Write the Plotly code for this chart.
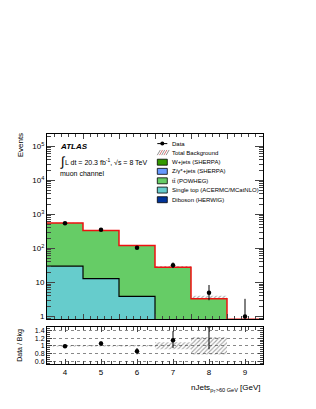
import numpy as np
import plotly.graph_objects as go

W, H = 316, 409

# ---------------- data ----------------
bin_centers = [4, 5, 6, 7, 8, 9]
bin_edges = [3.5, 4.5, 5.5, 6.5, 7.5, 8.5, 9.5]
data_vals = [550, 355, 105, 32, 5, 1]
data_err_up = [23, 19, 10, 6.7, 3.4, 2.3]
data_err_dn = [23, 19, 10, 5.6, 2.0, 0.83]
single_top = [30, 13, 3.9, 0, 0, 0]
total_bkg = [555, 335, 122, 28, 3.3, 0]
bkg_rel_unc = [0.02, 0.02, 0.02, 0.09, 0.23, 0]
tick_vals_main = [1, 10, 100, 1000, 10000, 100000]
tick_text_main = ["1", "10", "10<sup>2</sup>", "10<sup>3</sup>", "10<sup>4</sup>", "10<sup>5</sup>"]
ratio_ticks = [0.6, 0.8, 1.0, 1.2, 1.4]
ratio_ticktext = ["0.6", "0.8", "1", "1.2", "1.4"]
legend_labels = ["Data", "Total Background", "W+jets (SHERPA)", "Z/\u03b3*+jets (SHERPA)",
                 "tt\u0304 (POWHEG)", "Single top (ACERMC/MCatNLO)", "Diboson (HERWIG)"]
legend_colors = [None, None, "#339900", "#6699ff", "#66cc66", "#66cccc", "#003399"]

C_TT = "#66cc66"
C_ST = "#66cccc"
FONT = "Liberation Sans, Arial, sans-serif"

def px(x):
    return x / W

def py(y):
    return 1 - y / H

def step(vals, floor):
    v = [max(a, floor) if a > 0 else floor for a in vals]
    return list(bin_edges), v + [v[-1]]

fig = go.Figure()

# baseline for fills
bx, by = step([0] * 6, 1e-3)
fig.add_trace(go.Scatter(x=bx, y=by, mode="lines", line=dict(width=0, shape="hv"),
                         showlegend=False, hoverinfo="skip", xaxis="x", yaxis="y"))
# single top
sx, sy = step(single_top, 1e-3)
fig.add_trace(go.Scatter(x=sx, y=sy, mode="lines", line=dict(color="black", width=1.2, shape="hv"),
                         fill="tonexty", fillcolor=C_ST, showlegend=False, xaxis="x", yaxis="y"))
# ttbar (stack top)
tx, ty = step(total_bkg, 1e-3)
fig.add_trace(go.Scatter(x=tx, y=ty, mode="lines", line=dict(color=C_TT, width=0, shape="hv"),
                         fill="tonexty", fillcolor=C_TT, showlegend=False, xaxis="x", yaxis="y"))

# hatched uncertainty band (main)
tb = np.array(total_bkg, dtype=float)
ru = np.array(bkg_rel_unc)
fig.add_trace(go.Bar(x=bin_centers, y=2 * tb * ru, base=tb * (1 - ru), width=1,
                     marker=dict(color="rgba(0,0,0,0)", line=dict(width=0),
                                 pattern=dict(shape="/", fgcolor="#444", size=3, solidity=0.35)),
                     showlegend=False, xaxis="x", yaxis="y"))

# total background red line
rx, ry = step(total_bkg, 0.835)
fig.add_trace(go.Scatter(x=rx, y=ry, mode="lines", line=dict(color="#ee1111", width=1.5, shape="hv"),
                         showlegend=False, xaxis="x", yaxis="y"))

# data
fig.add_trace(go.Scatter(x=bin_centers, y=data_vals, mode="markers",
                         marker=dict(color="black", size=4.5),
                         error_y=dict(type="data", symmetric=False, array=data_err_up,
                                      arrayminus=data_err_dn, color="black", thickness=1, width=0),
                         showlegend=False, xaxis="x", yaxis="y"))

# ---------------- ratio ----------------
dv = np.array(data_vals, dtype=float)
ratio = [d / b if b > 0 else None for d, b in zip(dv, tb)]
r_up = [u / b if b > 0 else None for u, b in zip(data_err_up, tb)]
r_dn = [u / b if b > 0 else None for u, b in zip(data_err_dn, tb)]

band_x = [c for c, b in zip(bin_centers, tb) if b > 0]
band_ru = [r for r, b in zip(bkg_rel_unc, tb) if b > 0]
fig.add_trace(go.Bar(x=band_x, y=[2 * r for r in band_ru], base=[1 - r for r in band_ru], width=1,
                     marker=dict(color="rgba(0,0,0,0)", line=dict(width=0),
                                 pattern=dict(shape="/", fgcolor="#444", size=3, solidity=0.35)),
                     showlegend=False, xaxis="x2", yaxis="y2"))
fig.add_trace(go.Scatter(x=bin_centers, y=ratio, mode="markers",
                         marker=dict(color="black", size=4.5),
                         error_y=dict(type="data", symmetric=False, array=r_up, arrayminus=r_dn,
                                      color="black", thickness=1, width=0),
                         showlegend=False, xaxis="x2", yaxis="y2"))

XL, XR = px(47), px(263)
common_x = dict(range=[3.5, 9.5], showline=True, linecolor="black", linewidth=1, mirror="allticks",
                ticks="inside", showgrid=False, zeroline=False)

fig.update_layout(
    width=W, height=H, margin=dict(l=0, r=0, t=0, b=0),
    paper_bgcolor="white", plot_bgcolor="white", barmode="overlay",
    font=dict(family=FONT, color="black", size=8),
    xaxis=dict(domain=[XL, XR], anchor="y", showticklabels=False, tick0=3.5, dtick=1, ticklen=5,
               minor=dict(ticks="inside", ticklen=3, dtick=0.2, tick0=3.5, showgrid=False),
               **common_x),
    yaxis=dict(domain=[py(321), py(135)], type="log", range=[np.log10(0.82), 5.35], anchor="x",
               tickvals=tick_vals_main, ticktext=tick_text_main, ticks="inside", ticklen=8,
               minor=dict(ticks="inside", ticklen=4,
                          tickvals=[m * 10 ** k for k in range(-1, 6) for m in range(2, 10)]),
               showline=True, linecolor="black", linewidth=1, mirror="allticks", showgrid=False,
               zeroline=False, tickfont=dict(size=8)),
    xaxis2=dict(domain=[XL, XR], anchor="y2", tickvals=bin_centers, ticklen=5,
                minor=dict(ticks="inside", ticklen=3, dtick=0.2, tick0=3.5, showgrid=False),
                tickfont=dict(size=8), **common_x),
    yaxis2=dict(domain=[py(366), py(329)], range=[0.52, 1.48], anchor="x2",
                tickvals=ratio_ticks, ticktext=ratio_ticktext, ticks="inside", ticklen=5,
                minor=dict(ticks="inside", ticklen=3, dtick=0.05, showgrid=False),
                showline=True, linecolor="black", linewidth=1, mirror="allticks",
                showgrid=True, gridcolor="#888", griddash="dot", gridwidth=0.7,
                zeroline=False, tickfont=dict(size=7)),
)

ann = []
ann.append(dict(x=px(20), y=py(132), xref="paper", yref="paper", text="Events", textangle=-90,
                xanchor="center", yanchor="top", showarrow=False, font=dict(size=8)))
ann.append(dict(x=px(20), y=py(347.5), xref="paper", yref="paper", text="Data / Bkg", textangle=-90,
                xanchor="center", yanchor="middle", showarrow=False, font=dict(size=7)))
ann.append(dict(x=px(263), y=py(390), xref="paper", yref="paper",
                text="nJets<sub>p<sub>T</sub>&gt;60 GeV</sub> [GeV]",
                xanchor="right", yanchor="middle", showarrow=False, font=dict(size=8)))
ann.append(dict(x=px(58), y=py(147.7), xref="paper", yref="paper", text="<b><i>ATLAS</i></b>",
                xanchor="left", yanchor="middle", showarrow=False, font=dict(size=8)))
ann.append(dict(x=px(58), y=py(162), xref="paper", yref="paper", text="\u222b",
                xanchor="left", yanchor="middle", showarrow=False, font=dict(size=13)))
ann.append(dict(x=px(63), y=py(162.5), xref="paper", yref="paper",
                text="L dt = 20.3 fb<sup>-1</sup>, \u221as = 8 TeV",
                xanchor="left", yanchor="middle", showarrow=False, font=dict(size=7)))
ann.append(dict(x=px(58), y=py(174.5), xref="paper", yref="paper", text="muon channel",
                xanchor="left", yanchor="middle", showarrow=False, font=dict(size=7)))

shapes = []
row_y = [144.3, 153.3, 163, 172.2, 181.7, 191, 200.7]
bx0, bx1 = 157.3, 167.3
for i, (lab, col) in enumerate(zip(legend_labels, legend_colors)):
    yc = row_y[i]
    ann.append(dict(x=px(171), y=py(yc), xref="paper", yref="paper", text=lab, borderpad=0,
                    xanchor="left", yanchor="middle", showarrow=False, font=dict(size=6)))
    if i == 0:
        shapes.append(dict(type="line", xref="paper", yref="paper", x0=px(bx0), x1=px(bx1),
                           y0=py(yc), y1=py(yc), line=dict(color="black", width=1)))
        shapes.append(dict(type="circle", xref="paper", yref="paper", x0=px(160.3), x1=px(164.3),
                           y0=py(yc + 2), y1=py(yc - 2), fillcolor="black", line=dict(width=0)))
    elif i == 1:
        for k in range(5):
            x0 = bx0 + k * 2.2
            shapes.append(dict(type="line", xref="paper", yref="paper", x0=px(x0), x1=px(x0 + 3),
                               y0=py(yc + 2.6), y1=py(yc - 2.6),
                               line=dict(color="#cc5555" if k % 2 else "#777", width=0.8)))
    else:
        shapes.append(dict(type="rect", xref="paper", yref="paper", x0=px(bx0), x1=px(bx1),
                           y0=py(yc + 3), y1=py(yc - 3), fillcolor=col,
                           line=dict(color="black", width=0.8)))

fig.update_layout(annotations=ann, shapes=shapes)
fig.write_html("out.html", post_script="document.body.style.margin='0';",
               config={"displayModeBar": False})
